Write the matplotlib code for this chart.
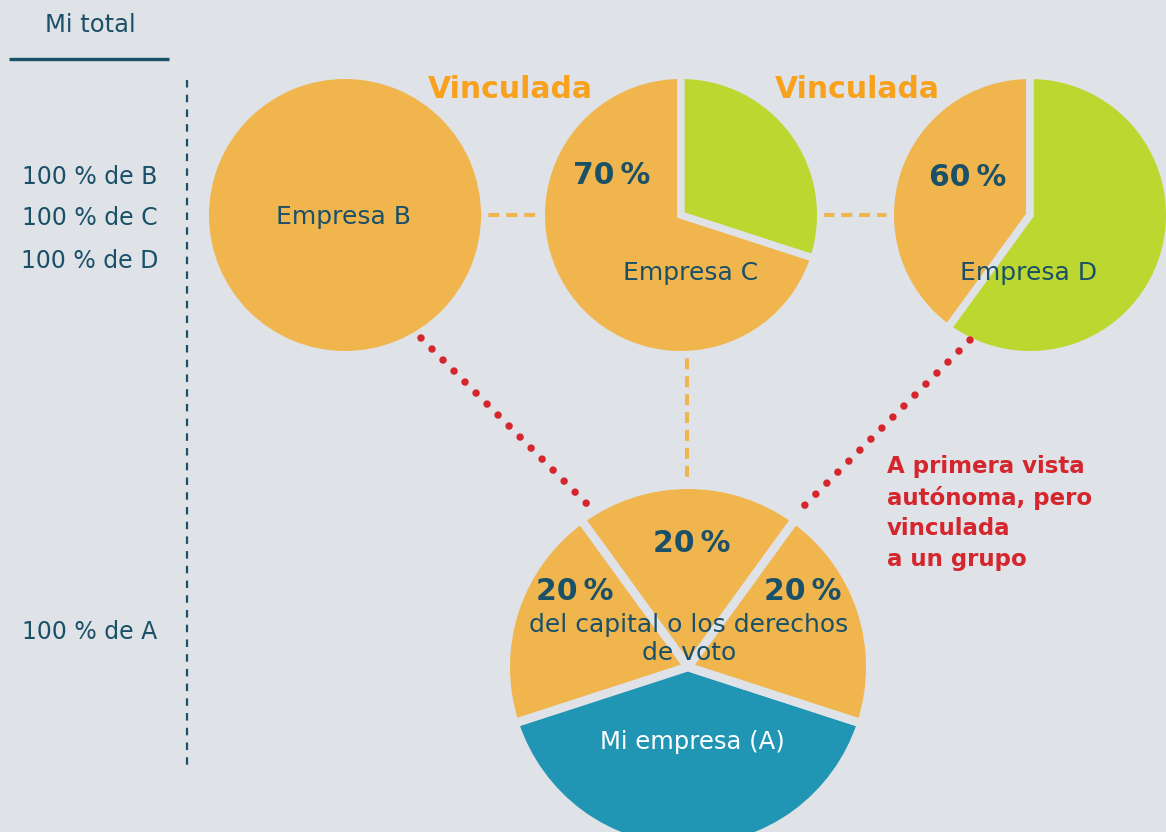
import numpy as np
import matplotlib.pyplot as plt

plt.rcParams['font.family'] = ['DejaVu Sans']
plt.rcParams['lines.scale_dashes'] = False

W, H = 1166, 832
BG = '#dfe2e7'
ORANGE = '#f0b54d'
GREEN = '#bdd731'
BLUE = '#2196b4'
TEAL = '#1a5068'
RED = '#d5262e'
VINC = '#f7a11d'

# share of capital / voting rights held in each company
share_b = [100]
share_c = [70, 30]            # held by B, rest
share_d = [40, 60]            # held by C, rest
share_a = [20, 20, 40, 20]    # top (C), left (B), own, right (D)
pct_c = '70\u2009%'
pct_d = '60\u2009%'
pct_a = ['20\u2009%', '20\u2009%', '20\u2009%']
left_labels = ['100 % de B', '100 % de C', '100 % de D', '100 % de A']
company_names = ['Empresa B', 'Empresa C', 'Empresa D', 'Mi empresa (A)']
linked_label = 'Vinculada'
note = 'A primera vista\nautónoma, pero\nvinculada\na un grupo'
share_text = 'del capital o los derechos\nde voto'


def draw_pie(ax, vals, colors, center, r, start, gap, explode=None):
    # y axis runs downward (pixel coords) so a clockwise pie in data space
    # shows up counter-clockwise on screen
    ax.pie(vals, colors=colors, center=center, radius=r + gap / 0.72 / 2,
           startangle=-start, counterclock=False, explode=explode, frame=True,
           wedgeprops=dict(edgecolor=BG, linewidth=gap))


fig = plt.figure(figsize=(W / 100, H / 100), dpi=100, facecolor=BG)
ax = fig.add_axes([0, 0, 1, 1])
ax.set_facecolor(BG)

# connector lines behind the circles
ax.plot([345, 680], [215, 215], color=ORANGE, lw=2.9, dashes=[7.9, 5], zorder=0.5)
ax.plot([680, 1030], [215, 215], color=ORANGE, lw=2.9, dashes=[7.9, 5], zorder=0.5)
ax.plot([687, 687], [215, 667], color=ORANGE, lw=2.9, dashes=[7.9, 5], zorder=0.5)

draw_pie(ax, share_b, [ORANGE], (345, 215), 136, 90, 0)
draw_pie(ax, share_c, [ORANGE, GREEN], (681, 215), 136, 90, 5.2, explode=[0, 0.025])
draw_pie(ax, share_d, [ORANGE, GREEN], (1030, 215), 136, 90, 5.5, explode=[0, 0.01])
draw_pie(ax, share_a, [ORANGE, ORANGE, BLUE, ORANGE], (688, 667), 178, 54, 6.2)

# red dotted links to the group
ax.plot([421, 597], [338, 514], color=RED, lw=5.4, dashes=[0.01, 11.2],
        dash_capstyle='round', zorder=3)
ax.plot([970, 794], [340, 516], color=RED, lw=5.4, dashes=[0.01, 11.2],
        dash_capstyle='round', zorder=3)

# left column
ax.text(90, 25, 'Mi total', color=TEAL, fontsize=17.5, ha='center', va='center')
ax.plot([9, 169], [59, 59], color=TEAL, lw=2.4, solid_capstyle='butt')
ax.plot([187, 187], [80, 766], color=TEAL, lw=1.6, dashes=[5.4, 5.2])
for lab, y in zip(left_labels, [177, 218, 261, 632]):
    ax.text(90, y, lab, color=TEAL, fontsize=17, ha='center', va='center')

# labels in the circles
ax.text(343, 217, company_names[0], color=TEAL, fontsize=18, ha='center', va='center')
ax.text(691, 273, company_names[1], color=TEAL, fontsize=18, ha='center', va='center')
ax.text(1029, 273, company_names[2], color=TEAL, fontsize=18, ha='center', va='center')
ax.text(692, 742, company_names[3], color='white', fontsize=17.5, ha='center', va='center')

ax.text(612, 175, pct_c, color=TEAL, fontsize=21.5, fontweight='bold', ha='center', va='center')
ax.text(968, 177, pct_d, color=TEAL, fontsize=21.5, fontweight='bold', ha='center', va='center')
for lab, (x, y) in zip(pct_a, [(692, 543), (575, 592), (803, 592)]):
    ax.text(x, y, lab, color=TEAL, fontsize=21.5, fontweight='bold', ha='center', va='center')
ax.text(689, 639, share_text, color=TEAL, fontsize=18, ha='center', va='center',
        linespacing=1.25)

ax.text(510, 90, linked_label, color=VINC, fontsize=21.5, fontweight='bold',
        ha='center', va='center')
ax.text(857, 90, linked_label, color=VINC, fontsize=21.5, fontweight='bold',
        ha='center', va='center')

ax.text(887, 513, note, color=RED, fontsize=16.5, fontweight='bold', ha='left',
        va='center', linespacing=1.42)

ax.set_xlim(0, W)
ax.set_ylim(H, 0)
ax.axis('off')

fig.savefig('out.png', dpi=100, facecolor=BG)
